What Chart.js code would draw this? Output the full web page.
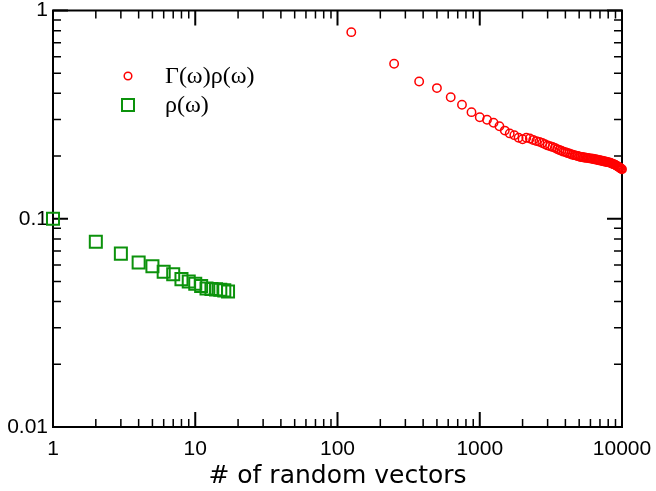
<!DOCTYPE html>
<html>
<head>
<meta charset="utf-8">
<script src="https://cdn.jsdelivr.net/npm/chart.js@4.4.1/dist/chart.umd.min.js"></script>
<style>
  html, body { margin: 0; padding: 0; background: #fff; }
  #wrap { width: 656px; height: 491px; }
</style>
</head>
<body>
<div id="wrap"><canvas id="chart"></canvas></div>
<script>
// rho(omega): stochastic estimate vs number of random vectors
const rhoX = [1, 2, 3, 4, 5, 6, 7, 8, 9, 10, 11, 12, 13, 14, 15, 16, 17];
const rhoY = [0.100, 0.0776, 0.0680, 0.0617, 0.0591, 0.0557, 0.0542, 0.0513, 0.0500,
  0.0488, 0.0475, 0.0463, 0.0460, 0.0458, 0.0456, 0.0453, 0.0447];

// Gamma(omega) rho(omega)
const gammaRhoX = [125, 250, 375, 500, 625, 750, 875, 1000, 1125, 1250, 1375, 1500, 1625, 1750,
  1875, 2000, 2125, 2250, 2375, 2500, 2625, 2750, 2875, 3000, 3125, 3250, 3375, 3500, 3625,
  3750, 3875, 4000, 4125, 4250, 4375, 4500, 4625, 4750, 4875, 5000, 5125, 5250, 5375, 5500,
  5625, 5750, 5875, 6000, 6125, 6250, 6375, 6500, 6625, 6750, 6875, 7000, 7125, 7250, 7375,
  7500, 7625, 7750, 7875, 8000, 8125, 8250, 8375, 8500, 8625, 8750, 8875, 9000, 9125, 9250,
  9375, 9500, 9625, 9750, 9875, 10000];
const gammaRhoY = [0.787, 0.555, 0.456, 0.424, 0.383, 0.353, 0.325, 0.307, 0.299, 0.289, 0.278,
  0.265, 0.257, 0.252, 0.245, 0.241, 0.245, 0.243, 0.239, 0.236, 0.234, 0.231, 0.228, 0.225,
  0.223, 0.221, 0.219, 0.216, 0.214, 0.212, 0.210, 0.209, 0.207, 0.206, 0.204, 0.203, 0.202,
  0.201, 0.200, 0.199, 0.198, 0.198, 0.197, 0.197, 0.196, 0.196, 0.195, 0.195, 0.194, 0.194,
  0.193, 0.193, 0.192, 0.192, 0.191, 0.191, 0.190, 0.190, 0.189, 0.189, 0.188, 0.188, 0.187,
  0.187, 0.186, 0.186, 0.185, 0.184, 0.183, 0.183, 0.182, 0.181, 0.180, 0.179, 0.178, 0.177,
  0.176, 0.175, 0.174, 0.173];

const xTicks = [1, 10, 100, 1000, 10000];
const yTicks = [0.01, 0.1, 1];
const seriesLabels = ["Γ(ω)ρ(ω)", "ρ(ω)"];
const xTitle = "# of random vectors";

const RED = "#ff0000";
const GREEN = "#0c920c";

function minorTicks(majors) {
  const out = [];
  for (let i = 0; i < majors.length - 1; i++) {
    for (let m = 2; m <= 9; m++) out.push(majors[i] * m);
  }
  return out;
}

// box frame with inward ticks on all four sides, plus the in-plot legend
const frameTicks = {
  id: "frameTicks",
  beforeDatasetsDraw(chart) {
    const { ctx, chartArea: a, scales } = chart;
    const x = scales.x, y = scales.y;
    ctx.save();
    ctx.strokeStyle = "#000";
    ctx.lineCap = "butt";

    ctx.lineWidth = 2;
    ctx.strokeRect(a.left, a.top, a.right - a.left, a.bottom - a.top);

    const tick = (vals, len, width) => {
      ctx.lineWidth = width;
      ctx.beginPath();
      vals.x.forEach((v) => {
        const px = x.getPixelForValue(v);
        ctx.moveTo(px, a.bottom); ctx.lineTo(px, a.bottom - len);
        ctx.moveTo(px, a.top); ctx.lineTo(px, a.top + len);
      });
      vals.y.forEach((v) => {
        const py = y.getPixelForValue(v);
        ctx.moveTo(a.left, py); ctx.lineTo(a.left + len, py);
        ctx.moveTo(a.right, py); ctx.lineTo(a.right - len, py);
      });
      ctx.stroke();
    };
    tick({ x: xTicks, y: yTicks }, 15, 2);
    tick({ x: minorTicks(xTicks), y: minorTicks(yTicks) }, 8, 1.5);
    ctx.restore();
  },
  afterDatasetsDraw(chart) {
    const { ctx } = chart;
    ctx.save();
    ctx.font = "24px 'Liberation Serif'";
    ctx.textBaseline = "middle";
    ctx.fillStyle = "#000";
    chart.data.datasets.forEach((ds, i) => {
      const cy = 76 + i * 29;
      const cx = 128;
      ctx.strokeStyle = ds.borderColor;
      ctx.lineWidth = ds.borderWidth;
      ctx.beginPath();
      if (ds.pointStyle === "rect") {
        ctx.rect(cx - 6, cy - 6, 12, 12);
      } else {
        ctx.arc(cx, cy, 3.8, 0, Math.PI * 2);
      }
      ctx.stroke();
      ctx.fillText(ds.label, 165, cy + 1);
    });
    ctx.restore();
  },
};

new Chart(document.getElementById("chart"), {
  type: "scatter",
  data: {
    datasets: [
      {
        label: seriesLabels[0],
        data: gammaRhoX.map((v, i) => ({ x: v, y: gammaRhoY[i] })),
        pointStyle: "circle",
        pointRadius: 4.2,
        borderWidth: 1.5,
        borderColor: RED,
        backgroundColor: "rgba(0,0,0,0)",
        clip: false,
      },
      {
        label: seriesLabels[1],
        data: rhoX.map((v, i) => ({ x: v, y: rhoY[i] })),
        pointStyle: "rect",
        pointRadius: 8.5,
        borderWidth: 2,
        borderColor: GREEN,
        backgroundColor: "rgba(0,0,0,0)",
        clip: false,
      },
    ],
  },
  options: {
    responsive: true,
    maintainAspectRatio: false,
    animation: false,
    layout: { padding: { top: 10, right: 34, left: 0, bottom: 0 } },
    plugins: { legend: { display: false }, tooltip: { enabled: false } },
    scales: {
      x: {
        type: "logarithmic",
        min: 1,
        max: 10000,
        grid: { display: false, drawTicks: false },
        border: { display: false },
        afterBuildTicks: (s) => { s.ticks = xTicks.map((v) => ({ value: v })); },
        afterFit: (s) => {
          s.height = 64;
          s.paddingLeft = 0;
          s.paddingRight = 0;
        },
        ticks: {
          color: "#000",
          padding: 10,
          maxRotation: 0,
          autoSkip: false,
          font: { family: "'Liberation Sans'", size: 21 },
          callback: (v) => String(v),
        },
        title: {
          display: true,
          text: xTitle,
          color: "#000",
          padding: { top: 2, bottom: 0 },
          font: { family: "'DejaVu Sans'", size: 25 },
        },
      },
      y: {
        type: "logarithmic",
        min: 0.01,
        max: 1,
        grid: { display: false, drawTicks: false },
        border: { display: false },
        afterBuildTicks: (s) => { s.ticks = yTicks.map((v) => ({ value: v })); },
        afterFit: (s) => {
          s.width = 53;
          s.paddingTop = 0;
          s.paddingBottom = 0;
        },
        ticks: {
          color: "#000",
          padding: 5,
          autoSkip: false,
          font: { family: "'Liberation Sans'", size: 21 },
          callback: (v) => String(v),
        },
      },
    },
  },
  plugins: [frameTicks],
});
</script>
</body>
</html>
